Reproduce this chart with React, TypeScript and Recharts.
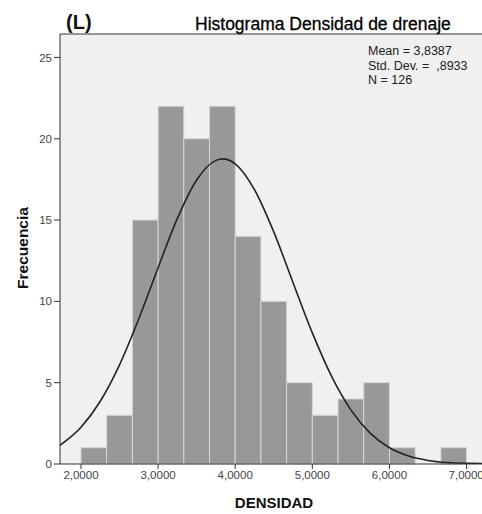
import React from 'react';
import {
  ComposedChart,
  Line,
  XAxis,
  YAxis,
  CartesianGrid,
  ReferenceArea,
  ReferenceLine,
} from 'recharts';

// Histogram bins (lower edges, width 1/3) and counts
const binStarts = [2.0, 2.3333, 2.6667, 3.0, 3.3333, 3.6667, 4.0, 4.3333, 4.6667, 5.0, 5.3333, 5.6667, 6.0, 6.3333, 6.6667];
const binWidth = 0.3333;
const counts = [1, 3, 15, 22, 20, 22, 14, 10, 5, 3, 4, 5, 1, 0, 1];

// Normal curve
const curveX = [1.728, 2.0, 2.25, 2.5, 2.75, 3.0, 3.25, 3.5, 3.75, 3.84, 4.0, 4.25, 4.5, 4.75, 5.0, 5.25, 5.5, 5.75, 6.0, 6.25, 6.5, 6.75, 7.0, 7.2];
const curveY = [1.15, 2.26, 3.86, 6.1, 8.93, 12.07, 15.1, 17.46, 18.67, 18.76, 18.46, 16.87, 14.27, 11.15, 8.06, 5.39, 3.33, 1.9, 1.0, 0.49, 0.22, 0.09, 0.04, 0.02];

const xTicks = [2, 3, 4, 5, 6, 7];
const yTicks = [0, 5, 10, 15, 20, 25];

const title = 'Histograma Densidad de drenaje';
const panelLabel = '(L)';
const statsLines = ['Mean = 3,8387', 'Std. Dev. =  ,8933', 'N = 126'];
const xLabel = 'DENSIDAD';
const yLabel = 'Frecuencia';

const curveData = curveX.map((x, i) => ({ x, y: curveY[i] }));

const fmtX = (v: number) => v.toFixed(4).replace('.', ',');

const font = 'Arial, "Liberation Sans", Helvetica, sans-serif';

export default function App() {
  return (
    <div style={{ position: 'absolute', left: 0, top: 0, width: 482, height: 514, background: '#fff', fontFamily: font }}>
      <ComposedChart
        width={482}
        height={514}
        data={curveData}
        margin={{ top: 34, right: 0, bottom: 0, left: 0 }}
      >
        <CartesianGrid fill="#f0f0f0" horizontal={false} vertical={false} />
        <XAxis
          dataKey="x"
          type="number"
          domain={[1.728, 7.2]}
          ticks={xTicks}
          tickFormatter={fmtX}
          allowDataOverflow
          height={50}
          stroke="#333"
          tickSize={5}
          tick={{ fill: '#444', fontSize: 11.5, fontFamily: font }}
        />
        <YAxis
          type="number"
          domain={[0, 26.44]}
          ticks={yTicks}
          allowDataOverflow
          width={60}
          stroke="#333"
          tickSize={6}
          tick={{ fill: '#444', fontSize: 11.5, fontFamily: font }}
        />
        {binStarts.map((s, i) =>
          counts[i] > 0 ? (
            <ReferenceArea
              key={i}
              x1={s}
              x2={s + binWidth}
              y1={0}
              y2={counts[i]}
              fill="#989898"
              fillOpacity={1}
              stroke="#d6d6d6"
              strokeWidth={1}
              strokeOpacity={1}
            />
          ) : null
        )}
        <ReferenceLine y={26.44} stroke="#333" strokeWidth={1} />
        <Line
          dataKey="y"
          type="monotone"
          stroke="#222"
          strokeWidth={1.6}
          dot={false}
          isAnimationActive={false}
        />
      </ComposedChart>
      <div style={{ position: 'absolute', left: 66, top: 11, fontSize: 20, fontWeight: 'bold', color: '#111' }}>{panelLabel}</div>
      <div style={{ position: 'absolute', left: 195, top: 14, fontSize: 17.5, color: '#000', whiteSpace: 'nowrap', WebkitTextStroke: '0.3px #000' }}>{title}</div>
      <div style={{ position: 'absolute', left: 368, top: 44, fontSize: 12.5, lineHeight: '14.5px', color: '#222', whiteSpace: 'pre' }}>
        {statsLines.map((l, i) => (
          <div key={i}>{l}</div>
        ))}
      </div>
      <div style={{ position: 'absolute', left: 0, width: 548, top: 494, textAlign: 'center', fontSize: 15, fontWeight: 'bold', color: '#111' }}>{xLabel}</div>
      <div
        style={{
          position: 'absolute',
          left: 22.5,
          top: 248,
          transform: 'translate(-50%, -50%) rotate(-90deg)',
          fontSize: 15.5,
          fontWeight: 'bold',
          color: '#111',
          whiteSpace: 'nowrap',
        }}
      >
        {yLabel}
      </div>
    </div>
  );
}
